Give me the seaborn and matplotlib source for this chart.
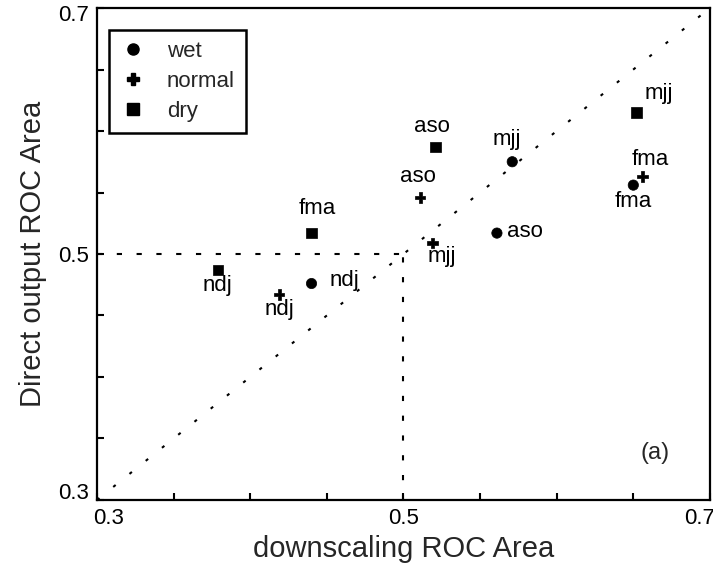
import numpy as np
import pandas as pd
import matplotlib
matplotlib.use("Agg")
import matplotlib.pyplot as plt
import matplotlib.transforms as mtransforms
import seaborn as sns

# ROC areas for each season and tercile category
seasons = ["ndj", "ndj", "ndj",
           "fma", "fma", "fma",
           "mjj", "mjj", "mjj",
           "aso", "aso", "aso"]
categories = ["wet", "normal", "dry",
              "wet", "normal", "dry",
              "wet", "normal", "dry",
              "wet", "normal", "dry"]
downscaling_roc = [0.440, 0.419, 0.379,
                   0.650, 0.656, 0.440,
                   0.571, 0.519, 0.652,
                   0.561, 0.511, 0.521]
direct_roc = [0.476, 0.467, 0.487,
              0.556, 0.563, 0.517,
              0.575, 0.509, 0.615,
              0.517, 0.546, 0.587]

category_order = ["wet", "normal", "dry"]
tick_values = [0.3, 0.35, 0.4, 0.45, 0.5, 0.55, 0.6, 0.65, 0.7]
tick_labels = ["0.3", "", "", "", "0.5", "", "", "", "0.7"]
panel_tag = "(a)"

df = pd.DataFrame({
    "season": seasons,
    "category": categories,
    "downscaling": downscaling_roc,
    "direct": direct_roc,
})

sns.set_style("ticks")
plt.rcParams["font.family"] = ["Liberation Sans", "DejaVu Sans"]

fig = plt.figure(figsize=(7.13, 5.64), dpi=100)
ax = fig.add_axes([0.1360, 0.1135, 0.8597, 0.8723])

markers = {"wet": "o", "normal": "P", "dry": "s"}
sns.scatterplot(data=df, x="downscaling", y="direct", style="category",
                style_order=category_order, markers=markers, color="black",
                s=55, edgecolor="black", linewidth=0.5, legend=False, ax=ax,
                zorder=3)

# reference lines: 1:1 diagonal and the 0.5 no-skill guides
ax.plot([0.3, 0.7], [0.3, 0.7], color="black", lw=1.5,
        linestyle=(0, (1.5, 8.5)), zorder=1)
ax.plot([0.3, 0.5], [0.5, 0.5], color="black", lw=1.5,
        linestyle=(0, (2.5, 7)), zorder=1)
ax.plot([0.5, 0.5], [0.3, 0.5], color="black", lw=1.5,
        linestyle=(0, (2.5, 7)), zorder=1)

# season labels beside each point (offsets in points)
label_offsets = {
    ("ndj", "wet"): (23.8, 2.2), ("ndj", "normal"): (0, -10.8),
    ("ndj", "dry"): (-0.7, -11.5),
    ("fma", "wet"): (0, -11.5), ("fma", "normal"): (5.8, 12.2),
    ("fma", "dry"): (4.3, 18),
    ("mjj", "wet"): (-3.6, 15.8), ("mjj", "normal"): (6.5, -10),
    ("mjj", "dry"): (15.8, 13.7),
    ("aso", "wet"): (20.2, 1.4), ("aso", "normal"): (-1.4, 15.1),
    ("aso", "dry"): (-2.9, 14.4),
}
for _, row in df.iterrows():
    ax.annotate(row["season"], (row["downscaling"], row["direct"]),
                xytext=label_offsets[(row["season"], row["category"])],
                textcoords="offset points", ha="center", va="center",
                fontsize=16, color="black")

ax.set_xlim(0.3, 0.7)
ax.set_ylim(0.3, 0.7)
ax.set_xticks(tick_values)
ax.set_xticklabels(tick_labels)
ax.set_yticks(tick_values)
ax.set_yticklabels(tick_labels)
ax.tick_params(axis="both", direction="in", length=5, width=1.5,
               labelsize=16, colors="black", pad=6)
for side in ["left", "bottom", "top", "right"]:
    ax.spines[side].set_visible(True)
    ax.spines[side].set_linewidth(1.6)
    ax.spines[side].set_color("black")

# keep edge tick labels inside the frame
def shift(label, dx_px, dy_px):
    off = mtransforms.ScaledTranslation(dx_px / 100, dy_px / 100,
                                        fig.dpi_scale_trans)
    label.set_transform(label.get_transform() + off)

xt = ax.get_xticklabels()
yt = ax.get_yticklabels()
shift(xt[0], 12, 0)
shift(xt[-1], -10, 0)
shift(yt[0], 0, 9)
shift(yt[-1], 0, -5)

ax.set_xlabel("downscaling ROC Area", fontsize=21, labelpad=4)
ax.set_ylabel("Direct output ROC Area", fontsize=21, labelpad=8)

ax.text(0.91, 0.095, panel_tag, transform=ax.transAxes, ha="center",
        va="center", fontsize=17)

handles = [plt.Line2D([], [], marker=markers[c], color="black", linestyle="",
                      markersize=8) for c in category_order]
leg = ax.legend(handles, category_order, loc="upper left",
                bbox_to_anchor=(0.0196, 0.955), borderaxespad=0,
                fontsize=16, frameon=True, fancybox=False,
                handletextpad=0.9, labelspacing=0.4, borderpad=0.5,
                handlelength=1.2)
leg.get_frame().set_edgecolor("black")
leg.get_frame().set_linewidth(1.8)
leg.get_frame().set_alpha(1)

fig.savefig("out.png", dpi=100)
